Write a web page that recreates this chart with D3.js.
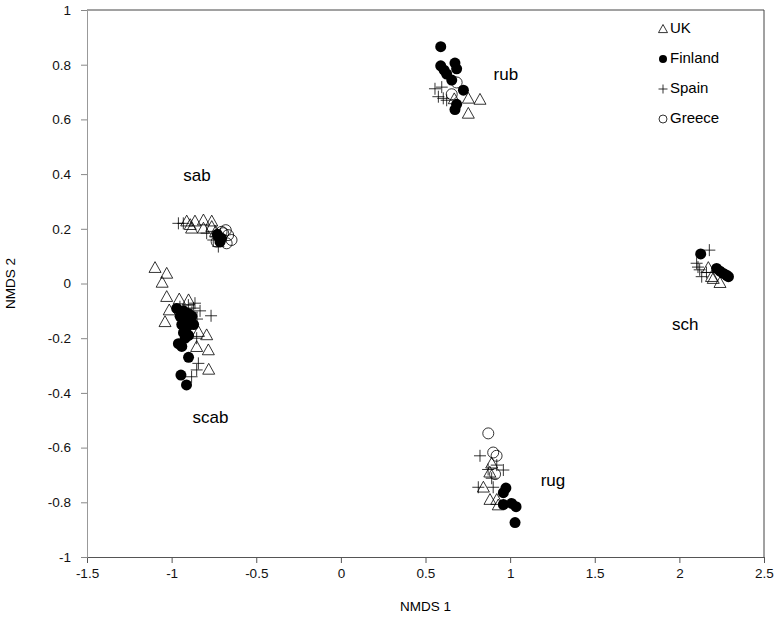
<!DOCTYPE html>
<html><head><meta charset="utf-8">
<script src="https://cdn.jsdelivr.net/npm/d3@7"></script>
<style>body{margin:0;background:#fff}svg{display:block}text{font-family:"Liberation Sans",Arial,sans-serif}</style>
</head><body><div id="chart"></div>
<script>
const xTicks = [-1.5,-1,-0.5,0,0.5,1,1.5,2,2.5];
const yTicks = [-1,-0.8,-0.6,-0.4,-0.2,0,0.2,0.4,0.6,0.8,1];
const seriesNames = ["UK","Finland","Spain","Greece"];
const clusterLabels = ["rub","sab","sch","scab","rug"];
const clusterLabelPos = [[0.975,0.762],[-0.85,0.39],[2.035,-0.155],[-0.77,-0.495],[1.253,-0.725]];

const ukPoints = [
  // sab
  [-0.911,0.228],[-0.862,0.228],[-0.812,0.232],[-0.763,0.228],[-0.882,0.202],[-0.812,0.202],[-0.763,0.208],[-0.74,0.19],[-0.89,0.215],
  // scab
  [-1.098,0.058],[-1.029,0.037],[-1.056,0.004],[-1.029,-0.048],[-0.955,-0.057],[-1.014,-0.097],[-1.039,-0.140],
  [-0.842,-0.176],[-0.793,-0.188],[-0.852,-0.231],[-0.783,-0.243],[-0.781,-0.314],[-0.9,-0.06],
  // rub
  [0.753,0.677],[0.822,0.673],[0.753,0.622],[0.67,0.675],
  // sch
  [2.171,0.058],[2.19,0.025],[2.24,0.003],[2.2,0.018],
  // rug
  [0.891,-0.657],[0.88,-0.69],[0.842,-0.745],[0.921,-0.79],[0.881,-0.79],[0.93,-0.81]
];
const finlandPoints = [
  // sab
  [-0.724,0.171],[-0.705,0.165],[-0.714,0.152],[-0.73,0.18],
  // scab
  [-0.97,-0.091],[-0.95,-0.12],[-0.93,-0.10],[-0.92,-0.13],[-0.90,-0.11],[-0.89,-0.14],[-0.91,-0.16],[-0.88,-0.12],
  [-0.94,-0.15],[-0.93,-0.18],[-0.90,-0.19],[-0.87,-0.15],[-0.92,-0.20],[-0.96,-0.22],[-0.94,-0.23],[-0.90,-0.27],
  [-0.945,-0.335],[-0.912,-0.371],
  // rub
  [0.590,0.866],[0.590,0.796],[0.674,0.806],[0.625,0.766],[0.684,0.785],[0.655,0.744],[0.724,0.707],[0.674,0.636],[0.684,0.655],[0.61,0.78],
  // sch
  [2.126,0.108],[2.22,0.055],[2.24,0.045],[2.26,0.037],[2.28,0.03],[2.29,0.025],
  // rug
  [0.975,-0.748],[0.96,-0.765],[0.96,-0.808],[1.009,-0.804],[1.035,-0.816],[1.029,-0.874]
];
const spainPoints = [
  // sab
  [-0.96,0.22],[-0.931,0.22],[-0.724,0.135],[-0.754,0.159],[-0.793,0.184],[-0.74,0.17],
  // scab
  [-0.862,-0.072],[-0.832,-0.100],[-0.767,-0.118],[-0.852,-0.200],[-0.842,-0.292],[-0.852,-0.316],[-0.882,-0.341],
  [-0.951,-0.085],[-0.901,-0.079],[-0.87,-0.09],[-0.88,-0.105],[-0.85,-0.13],
  // rub
  [0.556,0.712],[0.596,0.718],[0.576,0.683],[0.605,0.677],[0.625,0.67],
  // sch
  [2.177,0.122],[2.102,0.074],[2.11,0.06],[2.12,0.05],[2.132,0.025],[2.16,0.04],
  // rug
  [0.822,-0.63],[0.921,-0.664],[0.960,-0.682],[0.891,-0.712],[0.812,-0.745],[0.900,-0.745],[0.87,-0.68]
];
const greecePoints = [
  // sab
  [-0.695,0.184],[-0.666,0.177],[-0.646,0.159],[-0.675,0.147],[-0.734,0.153],[-0.705,0.189],[-0.68,0.195],
  // rub
  [0.655,0.692],[0.684,0.735],
  // rug
  [0.871,-0.548],[0.900,-0.618],[0.92,-0.63],[0.911,-0.697]
];

const W = 777, H = 618;
const m = {l:87, r:13, t:10, b:61};
const svg = d3.select("#chart").append("svg").attr("width",W).attr("height",H);
const x = d3.scaleLinear().domain([-1.5,2.5]).range([m.l, W-m.r]);
const y = d3.scaleLinear().domain([-1,1]).range([H-m.b, m.t]);

svg.append("path").attr("d",`M${x(-1.5)},${y(1)}H${x(2.5)}V${y(-1)}`).attr("fill","none").attr("stroke","#444").attr("stroke-width",1);

const fmt = d => String(d);
const xa = svg.append("g").attr("transform",`translate(0,${y(-1)})`)
  .call(d3.axisBottom(x).tickValues(xTicks).tickSize(6).tickPadding(5).tickFormat(fmt));
xa.select(".domain").attr("stroke","#555");
xa.selectAll(".tick line").attr("stroke","#555");
xa.selectAll("text").attr("font-size",13.5).attr("fill","#111").attr("font-family","Liberation Sans, Arial");

const ya = svg.append("g").attr("transform",`translate(${x(-1.5)},0)`)
  .call(d3.axisLeft(y).tickValues(yTicks).tickSize(6).tickPadding(10).tickFormat(fmt));
ya.select(".domain").attr("stroke","#999");
ya.selectAll(".tick line").attr("stroke","#888");
ya.selectAll("text").attr("font-size",13.5).attr("fill","#111").attr("font-family","Liberation Sans, Arial");

svg.append("text").attr("x",(x(-1.5)+x(2.5))/2).attr("y",611).attr("text-anchor","middle")
  .attr("font-size",13.5).text("NMDS 1");
svg.append("text").attr("transform",`translate(15,${(y(1)+y(-1))/2}) rotate(-90)`).attr("text-anchor","middle")
  .attr("font-size",13.5).text("NMDS 2");

const sz = 6;
function drawSymbol(g, type, cx, cy, s){
  if(type==="UK"){
    g.append("path").attr("d",`M${cx},${cy-s}L${cx+s},${cy+s*0.8}L${cx-s},${cy+s*0.8}Z`)
      .attr("fill","none").attr("stroke","#000").attr("stroke-width",0.8);
  } else if(type==="Finland"){
    g.append("circle").attr("cx",cx).attr("cy",cy).attr("r",s-0.5).attr("fill","#000");
  } else if(type==="Spain"){
    g.append("path").attr("d",`M${cx-s},${cy}H${cx+s}M${cx},${cy-s}V${cy+s}`)
      .attr("fill","none").attr("stroke","#000").attr("stroke-width",0.8);
  } else {
    g.append("circle").attr("cx",cx).attr("cy",cy).attr("r",s-0.5).attr("fill","none").attr("stroke","#000").attr("stroke-width",0.8);
  }
}
const all = {UK:ukPoints, Finland:finlandPoints, Spain:spainPoints, Greece:greecePoints};
const pg = svg.append("g");
seriesNames.forEach(n => all[n].forEach(p => drawSymbol(pg, n, x(p[0]), y(p[1]), sz)));

clusterLabels.forEach((t,i) => {
  svg.append("text").attr("x",x(clusterLabelPos[i][0])).attr("y",y(clusterLabelPos[i][1]))
    .attr("text-anchor","middle").attr("dominant-baseline","middle").attr("font-size",17).text(t);
});

const lg = svg.append("g");
seriesNames.forEach((n,i) => {
  const cy = 29 + i*30;
  drawSymbol(lg, n, 663, cy, 4.5);
  lg.append("text").attr("x",670).attr("y",cy).attr("dominant-baseline","middle").attr("font-size",15).text(n);
});
</script></body></html>
